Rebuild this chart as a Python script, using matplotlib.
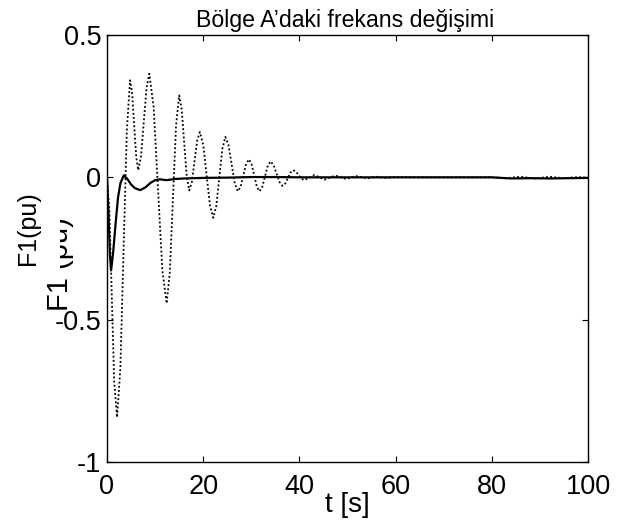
import matplotlib
matplotlib.use("Agg")
import matplotlib.pyplot as plt
from matplotlib.patches import Rectangle

plt.rcParams['font.family'] = ['Liberation Sans', 'DejaVu Sans']
plt.rcParams['axes.unicode_minus'] = False

# Dotted series (uncontrolled response)
t_dot = [0, 0.5, 1.0, 1.5, 2.1, 2.78, 3.45, 4.13, 4.8, 5.23, 5.65, 6.08, 6.5,
         7.08, 7.65, 8.23, 8.8, 9.7, 10.6, 11.5, 12.4, 13.05, 13.7, 14.35, 15.0,
         15.53, 16.05, 16.58, 17.1, 17.65, 18.2, 18.75, 19.3, 20.0, 20.7, 21.4, 22.1,
         22.73, 23.35, 23.98, 24.6, 25.25, 25.9, 26.55, 27.2, 27.78, 28.35, 28.93, 29.5,
         30.05, 30.6, 31.15, 31.7, 32.28, 32.85, 33.43, 34.0, 34.63, 35.25, 35.88, 36.5,
         37.05, 37.6, 38.15, 38.7, 39.28, 39.85, 40.43, 41.0, 42.0, 43.1, 44.2, 45.3,
         46.4, 47.5, 48.6, 49.7, 50.8, 51.9, 53.0, 54.1, 56.0, 58.0, 60.0, 65.0, 70.0,
         75.0, 80.0, 83.0, 86.0, 89.0, 92.0, 95.0, 98.0, 100.0]
f_dot = [0, -0.12, -0.42, -0.72, -0.843, -0.67, -0.25, 0.168, 0.341, 0.295, 0.183, 0.071, 0.025,
         0.075, 0.195, 0.315, 0.364, 0.246, -0.04, -0.325, -0.443, -0.336, -0.078, 0.181, 0.288,
         0.239, 0.121, 0.003, -0.046, -0.016, 0.057, 0.129, 0.159, 0.115, 0.009, -0.098, -0.142,
         -0.1, 0.0, 0.1, 0.142, 0.114, 0.047, -0.021, -0.049, -0.033, 0.007, 0.047, 0.063,
         0.047, 0.007, -0.033, -0.049, -0.034, 0.004, 0.041, 0.056, 0.043, 0.013, -0.017, -0.03,
         -0.022, -0.003, 0.017, 0.025, 0.02, 0.008, -0.005, -0.01, -0.002, 0.008, 0.0, -0.008,
         0.0, 0.006, 0.0, -0.006, 0.0, 0.004, 0.0, -0.004, 0.002, -0.002, 0.001, 0.0, 0.0,
         0.0, 0.0, -0.003, 0.002, -0.004, 0.002, -0.003, 0.001, -0.002]

# Solid series (controlled response)
t_sol = [0, 0.3, 0.6, 0.85, 1.3, 1.8, 2.3, 2.8, 3.5, 4.2, 5.0, 5.8, 6.9, 8.0, 9.0, 10.0,
         11.0, 12.4, 14.0, 16.0, 18.0, 20.0, 25.0, 30.0, 35.0, 40.0, 50.0, 60.0, 70.0, 80.0,
         84.0, 88.0, 92.0, 96.0, 100.0]
f_sol = [0, -0.12, -0.27, -0.327, -0.26, -0.16, -0.07, -0.02, 0.007, -0.005, -0.025, -0.038,
         -0.045, -0.035, -0.02, -0.01, -0.007, -0.01, -0.006, -0.004, -0.003, -0.002, -0.001,
         0.001, 0.001, 0.0, 0.0, 0.0, 0.0, 0.0, -0.004, -0.003, -0.004, -0.003, -0.002]

x_ticks = [0, 20, 40, 60, 80, 100]
y_ticks = [-1, -0.5, 0, 0.5]
y_ticklabels = ['-1', '-0.5', '0', '0.5']

W, H = 624, 520
fig = plt.figure(figsize=(W / 100, H / 100), dpi=100)
ax = fig.add_axes([107 / W, 1 - 462 / H, (588 - 107) / W, (462 - 35) / H])

ax.plot(t_dot, f_dot, color='black', lw=1.3, linestyle=(0, (1, 1.3)))
ax.plot(t_sol, f_sol, color='black', lw=1.6)

ax.set_xlim(0, 100)
ax.set_ylim(-1, 0.5)
ax.set_xticks(x_ticks)
ax.set_xticklabels([str(v) for v in x_ticks])
ax.set_yticks(y_ticks)
ax.set_yticklabels(y_ticklabels)
ax.tick_params(direction='in', length=4, width=0.8, top=True, right=True,
               labelsize=19.5, pad=4)
ax.tick_params(axis='x', pad=9)
for s in ax.spines.values():
    s.set_linewidth(1.0)

fig.text(345 / W, 1 - 27 / H, 'Bölge A’daki frekans değişimi', ha='center',
         va='baseline', fontsize=16.7)
fig.text(347 / W, 1 - 512 / H, 't [s]', ha='center', va='baseline', fontsize=20)

fig.text(60 / W, 1 - 264 / H, 'F1 (pu)', rotation=90, ha='center', va='center',
         fontsize=21)
fig.patches.append(Rectangle((43 / W, 1 - 274 / H), 17 / W, 64 / H,
                             transform=fig.transFigure, facecolor='white',
                             edgecolor='none', zorder=5))
fig.text(28 / W, 1 - 228 / H, 'F1(pu)', rotation=90, ha='center', va='center',
         fontsize=18, zorder=6)

fig.savefig('out.png', dpi=100)
